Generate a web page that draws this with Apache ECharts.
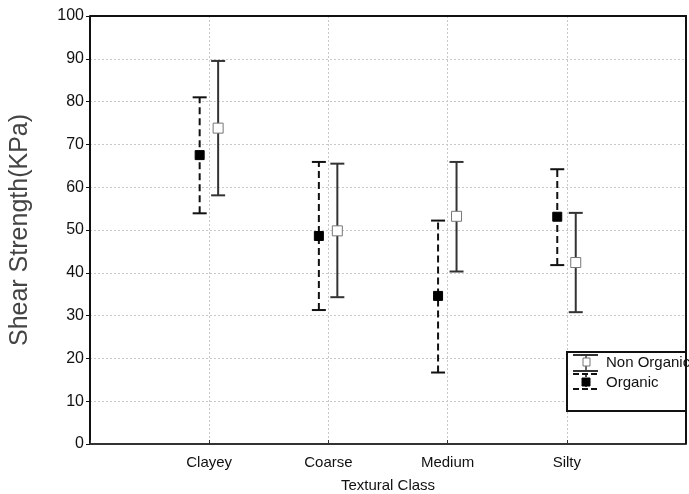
<!DOCTYPE html>
<html>
<head>
<meta charset="utf-8">
<script src="https://cdn.jsdelivr.net/npm/echarts@6/dist/echarts.min.js"></script>
<style>
  html, body { margin: 0; padding: 0; background: #fff; }
  #chart { width: 689px; height: 494px; }
</style>
</head>
<body>
<div id="chart"></div>
<script>
// textural classes on the x axis
var categories = ["Clayey", "Coarse", "Medium", "Silty"];
var yTicks = [0, 10, 20, 30, 40, 50, 60, 70, 80, 90, 100];

// Organic (dashed bars, filled squares)
var organicMean = [67.5, 48.6, 34.6, 53.1];
var organicLow = [53.9, 31.3, 16.7, 41.8];
var organicHigh = [81.0, 65.9, 52.2, 64.2];

// Non Organic (solid bars, open squares)
var nonOrgMean = [73.8, 49.8, 53.2, 42.4];
var nonOrgLow = [58.1, 34.3, 40.3, 30.8];
var nonOrgHigh = [89.5, 65.5, 65.9, 54.0];

var FONT = "Liberation Sans";
var offOrg = -0.08, offNon = 0.075; // side by side within a class

function barData(low, high, off) {
  return categories.map(function (c, i) { return [i + 1 + off, low[i], high[i]]; });
}
function meanData(mean, off) {
  return categories.map(function (c, i) { return [i + 1 + off, mean[i]]; });
}

function errorBar(dashed, color) {
  return function (params, api) {
    var lo = api.coord([api.value(0), api.value(1)]);
    var hi = api.coord([api.value(0), api.value(2)]);
    var hw = 7;
    var style = { stroke: color, lineWidth: 2 };
    var stem = { stroke: color, lineWidth: 2, lineDash: dashed ? [7, 4] : null };
    return {
      type: "group",
      children: [
        { type: "line", shape: { x1: lo[0], y1: lo[1], x2: hi[0], y2: hi[1] }, style: stem },
        { type: "line", shape: { x1: lo[0] - hw, y1: lo[1], x2: lo[0] + hw, y2: lo[1] }, style: style },
        { type: "line", shape: { x1: hi[0] - hw, y1: hi[1], x2: hi[0] + hw, y2: hi[1] }, style: style }
      ]
    };
  };
}

var myChart = echarts.init(document.getElementById("chart"));
var option = {
  animation: false,
  backgroundColor: "#fff",
  grid: {
    left: 90, right: 3, top: 16, bottom: 50,
    outerBoundsMode: "none",
    show: false
  },
  xAxis: {
    type: "value",
    min: 0, max: 5, interval: 1,
    name: "Textural Class",
    nameLocation: "middle",
    nameGap: 34,
    nameTextStyle: { fontFamily: FONT, fontSize: 15, color: "#111" },
    axisLine: { show: true, lineStyle: { color: "#333", width: 2 } },
    axisTick: { show: true, inside: true, length: 4, lineStyle: { color: "#333" } },
    axisLabel: {
      fontFamily: FONT, fontSize: 15, color: "#111", margin: 11,
      formatter: function (v) { return categories[v - 1] || ""; }
    },
    splitLine: { show: true, lineStyle: { color: "#c8c8c8", type: [2, 2], width: 1 } }
  },
  yAxis: {
    type: "value",
    min: 0, max: 100, interval: 10,
    name: "Shear Strength(KPa)",
    nameLocation: "middle",
    nameGap: 57,
    nameTextStyle: { fontFamily: FONT, fontSize: 25, color: "#444" },
    axisLine: { show: true, lineStyle: { color: "#111", width: 2 } },
    axisTick: { show: true, length: 4, lineStyle: { color: "#111" } },
    axisLabel: { fontFamily: FONT, fontSize: 16, color: "#111", margin: 6 },
    splitLine: { show: true, lineStyle: { color: "#c8c8c8", type: [2, 2], width: 1 } }
  },
  series: [
    {
      name: "Organic bars", type: "custom", renderItem: errorBar(true, "#111"),
      encode: { x: 0, y: [1, 2] }, data: barData(organicLow, organicHigh, offOrg), z: 3
    },
    {
      name: "Non Organic bars", type: "custom", renderItem: errorBar(false, "#333"),
      encode: { x: 0, y: [1, 2] }, data: barData(nonOrgLow, nonOrgHigh, offNon), z: 3
    },
    {
      name: "Organic", type: "scatter", symbol: "rect", symbolSize: 9,
      itemStyle: { color: "#000", borderColor: "#000", borderWidth: 1, opacity: 1 },
      data: meanData(organicMean, offOrg), z: 5
    },
    {
      name: "Non Organic", type: "scatter", symbol: "rect", symbolSize: 10,
      itemStyle: { color: "#fff", borderColor: "#777", borderWidth: 1, opacity: 1 },
      data: meanData(nonOrgMean, offNon), z: 5
    }
  ],
  graphic: [
    // plot frame (top and right edges)
    { type: "polyline", shape: { points: [[90, 16], [686, 16], [686, 444]] },
      style: { fill: null, stroke: "#111", lineWidth: 2 }, z: 9 },
    { type: "rect", shape: { x: 567, y: 352, width: 119, height: 59 },
      style: { fill: "#fff", stroke: "#111", lineWidth: 2 }, z: 10 },
    // Non Organic key
    { type: "line", shape: { x1: 573, y1: 355, x2: 598, y2: 355 }, style: { stroke: "#333", lineWidth: 2 }, z: 11 },
    { type: "line", shape: { x1: 586, y1: 355, x2: 586, y2: 371 }, style: { stroke: "#333", lineWidth: 1.5 }, z: 11 },
    { type: "line", shape: { x1: 573, y1: 371, x2: 598, y2: 371 }, style: { stroke: "#333", lineWidth: 2 }, z: 11 },
    { type: "rect", shape: { x: 583, y: 358, width: 7, height: 8 }, style: { fill: "#fff", stroke: "#777", lineWidth: 1 }, z: 12 },
    { type: "text", left: 606, top: 355, style: { text: "Non Organic", fontFamily: FONT, fontSize: 15, fill: "#111" }, z: 12 },
    // Organic key
    { type: "line", shape: { x1: 573, y1: 374, x2: 598, y2: 374 }, style: { stroke: "#111", lineWidth: 2, lineDash: [6, 3] }, z: 11 },
    { type: "line", shape: { x1: 586, y1: 374, x2: 586, y2: 389 }, style: { stroke: "#111", lineWidth: 1.5, lineDash: [3, 2] }, z: 11 },
    { type: "line", shape: { x1: 573, y1: 389, x2: 598, y2: 389 }, style: { stroke: "#111", lineWidth: 2, lineDash: [6, 3] }, z: 11 },
    { type: "rect", shape: { x: 582, y: 378, width: 8, height: 8 }, style: { fill: "#000", stroke: "#000", lineWidth: 1 }, z: 12 },
    { type: "text", left: 606, top: 375, style: { text: "Organic", fontFamily: FONT, fontSize: 15, fill: "#111" }, z: 12 }
  ]
};
myChart.setOption(option);
window.addEventListener("resize", function () {
  myChart.resize();
});
</script>
</body>
</html>
